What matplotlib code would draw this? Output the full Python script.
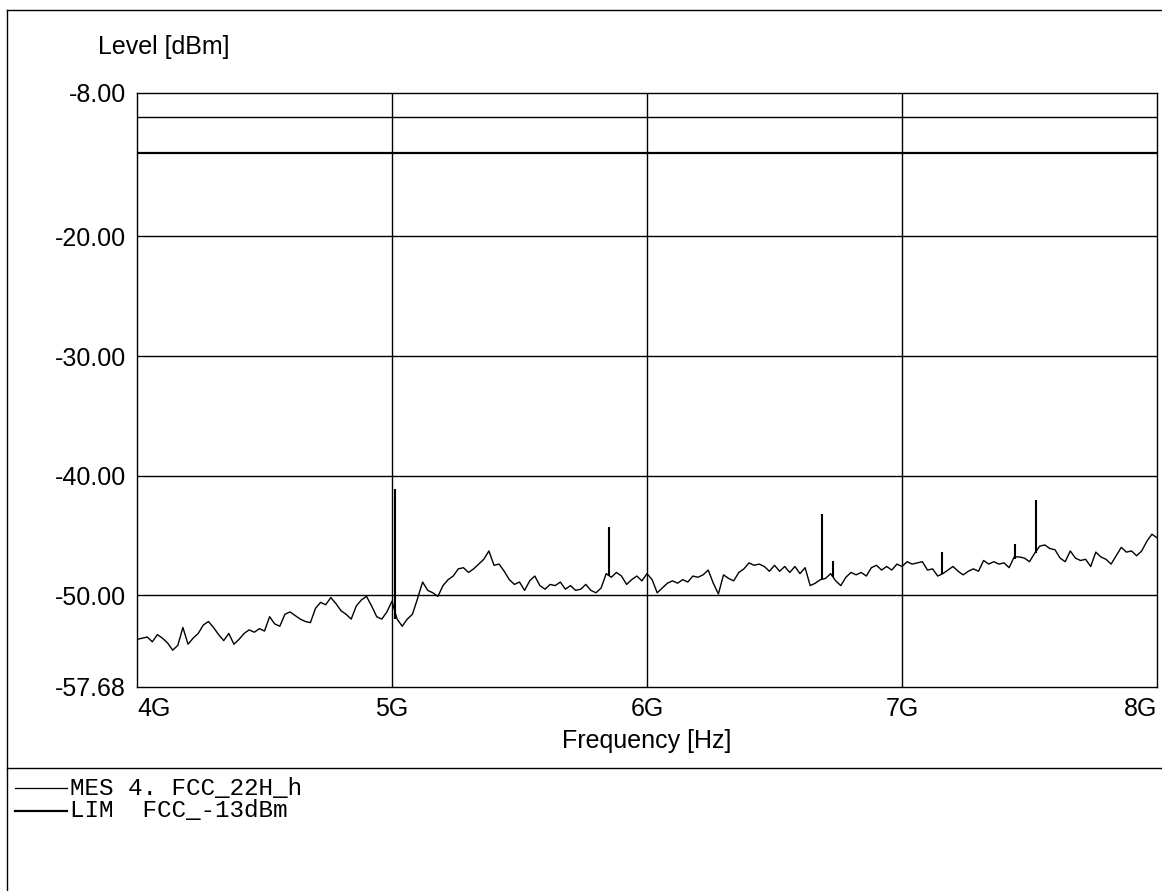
import numpy as np
import matplotlib
matplotlib.use("Agg")
import matplotlib.pyplot as plt
from matplotlib.lines import Line2D

plt.rcParams['font.family'] = ['Liberation Sans', 'DejaVu Sans']
plt.rcParams['axes.unicode_minus'] = False

# ---- data ----
sweep_start_ghz = 4.0
sweep_step_ghz = 0.02
level_dbm = [
    -53.7, -53.6, -53.5, -53.9, -53.3, -53.6, -54.0, -54.6, -54.2, -52.7,
    -54.1, -53.6, -53.2, -52.5, -52.2, -52.7, -53.3, -53.8, -53.2, -54.1,
    -53.7, -53.2, -52.9, -53.1, -52.8, -53.0, -51.8, -52.4, -52.6, -51.6,
    -51.4, -51.7, -52.0, -52.2, -52.3, -51.1, -50.6, -50.8, -50.2, -50.7,
    -51.3, -51.6, -52.0, -50.9, -50.4, -50.1, -50.9, -51.8, -52.0, -51.4,
    -50.5, -52.0, -52.6, -52.0, -51.6, -50.3, -48.9, -49.6, -49.8, -50.1,
    -49.2, -48.7, -48.4, -47.8, -47.7, -48.1, -47.8, -47.4, -47.0, -46.3,
    -47.5, -47.4, -48.0, -48.7, -49.1, -48.9, -49.6, -48.8, -48.4, -49.2,
    -49.5, -49.1, -49.2, -48.9, -49.5, -49.2, -49.6, -49.5, -49.1, -49.6,
    -49.8, -49.4, -48.2, -48.5, -48.1, -48.4, -49.1, -48.7, -48.4, -48.8,
    -48.2, -48.7, -49.8, -49.4, -49.0, -48.8, -49.0, -48.7, -48.9, -48.4,
    -48.5, -48.3, -47.9, -49.0, -49.9, -48.3, -48.6, -48.8, -48.1, -47.8,
    -47.3, -47.5, -47.4, -47.6, -48.0, -47.5, -48.0, -47.6, -48.1, -47.6,
    -48.2, -47.7, -49.2, -49.0, -48.7, -48.6, -48.2, -48.8, -49.2, -48.5,
    -48.1, -48.3, -48.1, -48.4, -47.7, -47.5, -47.9, -47.6, -47.9, -47.4,
    -47.6, -47.2, -47.4, -47.3, -47.2, -47.9, -47.8, -48.4, -48.2, -47.9,
    -47.6, -48.0, -48.3, -48.0, -47.8, -48.0, -47.1, -47.4, -47.2, -47.4,
    -47.3, -47.7, -46.8, -46.8, -46.9, -47.2, -46.5, -45.9, -45.8, -46.1,
    -46.2, -46.9, -47.2, -46.3, -46.9, -47.1, -47.0, -47.6, -46.4, -46.8,
    -47.0, -47.4, -46.7, -46.0, -46.4, -46.3, -46.7, -46.3, -45.5, -44.9,
    -45.2,
]
spike_freq_ghz = [5.012, 5.851, 6.685, 6.728, 7.156, 7.443, 7.524]
spike_top_dbm = [-41.1, -44.3, -43.2, -47.1, -46.4, -45.7, -42.0]
spike_base_dbm = [-52.0, -48.4, -48.7, -48.5, -48.2, -47.0, -46.5]

limit_dbm = -13.0
grid_levels = [-10, -20, -30, -40, -50]
grid_freqs = [5, 6, 7]
ytick_values = [-8.0, -20.0, -30.0, -40.0, -50.0, -57.68]
xtick_values = [4, 5, 6, 7, 8]
xtick_labels = ["4G", "5G", "6G", "7G", "8G"]
legend_rows = ["MES 4. FCC_22H_h", "LIM  FCC_-13dBm"]

freq_ghz = sweep_start_ghz + sweep_step_ghz * np.arange(len(level_dbm))

W, H = 1162, 891
fig = plt.figure(figsize=(W / 100, H / 100), dpi=100)
fig.patch.set_facecolor("white")

def fx(px):
    return px / W

def fy(py):
    return 1 - py / H

ax = fig.add_axes([fx(137), fy(687), fx(1157) - fx(137), fy(93) - fy(687)])
ax.set_xlim(4, 8)
ax.set_ylim(-57.68, -8)

for g in grid_levels:
    ax.axhline(g, color="black", lw=1.0, zorder=1)
for g in grid_freqs:
    ax.axvline(g, color="black", lw=1.0, zorder=1)
ax.axhline(limit_dbm, color="black", lw=1.6, zorder=2)

ax.plot(freq_ghz, level_dbm, color="black", lw=1.0, zorder=3)
ax.vlines(spike_freq_ghz, spike_base_dbm, spike_top_dbm, color="black", lw=1.5, zorder=3)

for s in ax.spines.values():
    s.set_linewidth(1.0)
    s.set_color("black")

ax.set_yticks(ytick_values)
ax.set_yticklabels([f"{v:.2f}" for v in ytick_values])
ax.set_xticks(xtick_values)
ax.set_xticklabels(xtick_labels)
ax.tick_params(axis="both", length=0, labelsize=18, colors="black")
ax.tick_params(axis="y", pad=8)
ax.tick_params(axis="x", pad=7)
xl = ax.get_xticklabels()
xl[0].set_horizontalalignment("left")
xl[-1].set_horizontalalignment("right")

fig.text(fx(98), fy(47), "Level [dBm]", fontsize=18, ha="left", va="center")
fig.text(fx(647), fy(741), "Frequency [Hz]", fontsize=18, ha="center", va="center")

# frame of the printout
fig.add_artist(Line2D([fx(7), fx(1162)], [fy(10), fy(10)], color="black", lw=1.0))
fig.add_artist(Line2D([fx(7), fx(7)], [fy(10), fy(891)], color="black", lw=1.0))
fig.add_artist(Line2D([fx(7), fx(1162)], [fy(768), fy(768)], color="black", lw=1.0))

# legend
row_y = [788, 811]
row_lw = [0.9, 1.6]
for txt, yy, lw in zip(legend_rows, row_y, row_lw):
    fig.add_artist(Line2D([fx(15), fx(67)], [fy(yy), fy(yy)], color="black", lw=lw))
    fig.text(fx(70), fy(yy), txt, fontsize=17.5, family="Liberation Mono",
             ha="left", va="center")

fig.savefig("out.png", dpi=100)
